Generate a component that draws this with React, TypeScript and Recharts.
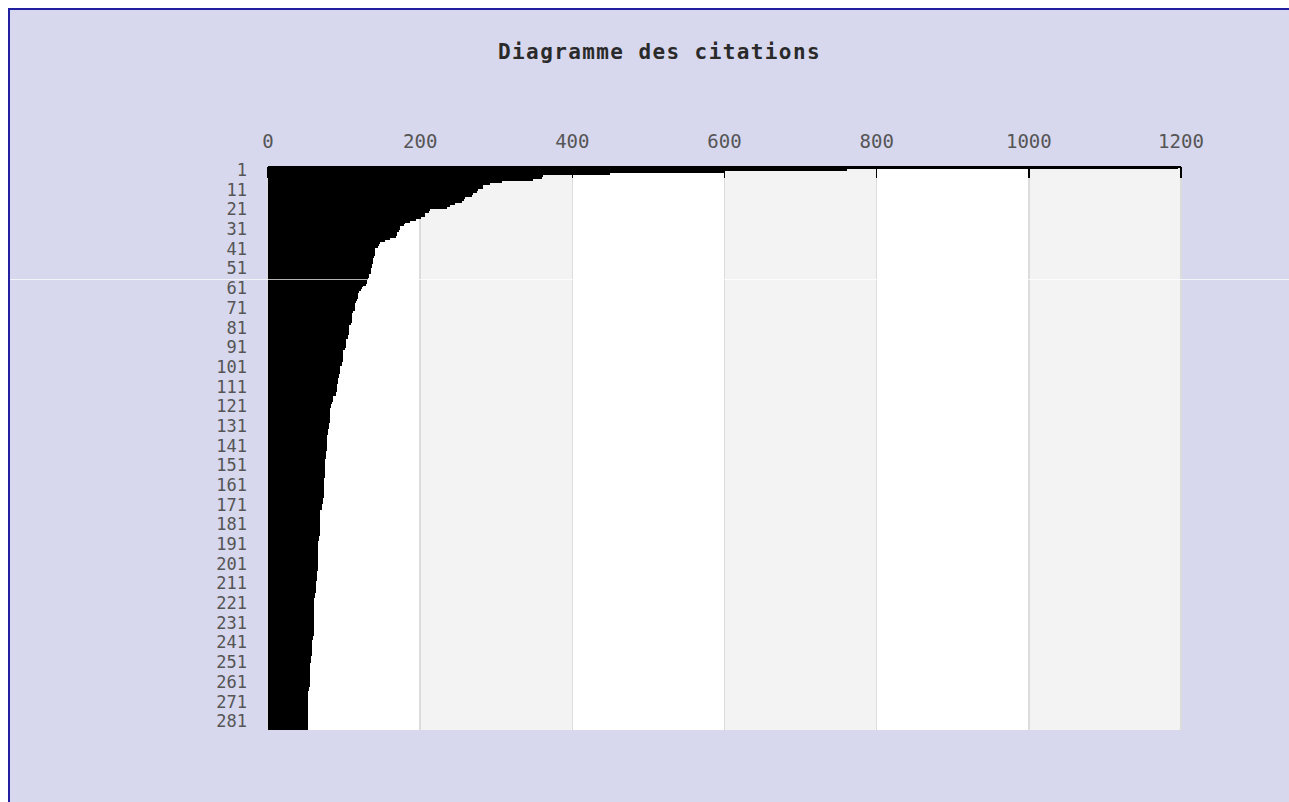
import { Bar, BarChart, CartesianGrid, XAxis, YAxis } from 'recharts';

// citations per paper, sorted by rank
const citations = [
  1196, 761, 600, 450, 362, 360, 348, 308, 292, 283,
  282, 276, 275, 270, 268, 259, 257, 255, 246, 239,
  235, 213, 212, 207, 206, 201, 194, 187, 180, 179,
  174, 173, 172, 170, 169, 168, 160, 154, 147, 146,
  145, 141, 141, 140, 140, 139, 138, 138, 138, 137,
  137, 136, 136, 135, 133, 133, 132, 130, 130, 129,
  125, 124, 122, 119, 118, 118, 118, 117, 116, 115,
  115, 114, 114, 112, 111, 111, 110, 110, 110, 109,
  107, 107, 106, 106, 106, 105, 105, 103, 103, 102,
  102, 102, 101, 99, 99, 98, 98, 98, 98, 97,
  97, 95, 94, 94, 94, 93, 93, 92, 92, 92,
  91, 91, 91, 91, 90, 90, 86, 85, 85, 84,
  83, 83, 82, 82, 82, 82, 81, 81, 81, 81,
  80, 80, 80, 79, 79, 79, 78, 78, 77, 77,
  77, 77, 77, 77, 76, 76, 76, 76, 75, 75,
  75, 75, 75, 75, 75, 75, 75, 75, 74, 74,
  74, 74, 74, 74, 74, 74, 74, 74, 72, 72,
  72, 71, 71, 71, 69, 69, 69, 69, 69, 69,
  69, 68, 68, 68, 68, 68, 68, 67, 67, 67,
  66, 66, 66, 66, 66, 66, 66, 66, 66, 66,
  66, 66, 66, 66, 66, 65, 65, 65, 64, 64,
  63, 63, 63, 63, 63, 63, 62, 62, 62, 61,
  61, 61, 61, 61, 61, 61, 61, 61, 61, 61,
  61, 61, 61, 61, 61, 60, 60, 60, 59, 59,
  58, 58, 58, 58, 58, 58, 58, 58, 57, 57,
  56, 56, 55, 55, 55, 55, 55, 55, 55, 55,
  55, 55, 55, 55, 54, 54, 53, 53, 53, 53,
  53, 53, 53, 53, 53, 53, 53, 53, 53, 53,
  52, 52, 52, 52, 52, 52,
];
const ranks = citations.map((_, i) => i + 1);
const xTicks = [0, 200, 400, 600, 800, 1000, 1200];
const title = 'Diagramme des citations';

const data = ranks.map((rank, i) => ({ rank: String(rank), value: citations[i] }));

const MONO = '"DejaVu Sans Mono", monospace';

function TopTick({ x, y, payload }: any) {
  return (
    <g>
      <text x={x} y={y} textAnchor="middle" fill="#555" fontSize={19} fontFamily={MONO}>
        {payload.value}
      </text>
      <line x1={x} x2={x} y1={y + 19} y2={y + 30} stroke="#000" strokeWidth={1.4} />
    </g>
  );
}

function StepBar({ x, y, width, height }: any) {
  if (!width) return null;
  return <rect x={x} y={y} width={width} height={height + 0.4} fill="#000" />;
}

export default function App() {
  return (
    <div
      style={{
        position: 'fixed',
        left: 8,
        top: 8,
        width: 1281,
        height: 794,
        boxSizing: 'border-box',
        background: '#d7d7ee',
        borderLeft: '2px solid #2020a0',
        borderTop: '2px solid #2020a0',
        overflow: 'hidden',
      }}
    >
      <div
        style={{
          position: 'absolute',
          top: 32,
          left: 10,
          width: 1279,
          textAlign: 'center',
          fontFamily: MONO,
          fontWeight: 'bold',
          fontSize: 21,
          letterSpacing: 1.4,
          lineHeight: 1,
          color: '#2a2a2a',
          zIndex: 2,
        }}
      >
        {title}
      </div>
      <BarChart
        width={1279}
        height={792}
        data={data}
        layout="vertical"
        margin={{ top: 117, right: 108, left: 198, bottom: 72 }}
        barCategoryGap={0}
        style={{ shapeRendering: 'crispEdges' }}
      >
        <CartesianGrid
          horizontal={false}
          stroke="#dcdcdc"
          strokeWidth={1.5}
          verticalFill={['#ffffff', '#f3f3f3']}
        />
        <XAxis
          type="number"
          orientation="top"
          domain={[0, 1200]}
          ticks={xTicks}
          interval={0}
          height={40}
          axisLine={{ stroke: '#000', strokeWidth: 1.5 }}
          tickLine={false}
          tickSize={0}
          tickMargin={19}
          tick={TopTick}
        />
        <YAxis
          type="category"
          dataKey="rank"
          width={60}
          interval={9}
          axisLine={false}
          tickLine={false}
          tickSize={0}
          tickMargin={21}
          tick={{ fill: '#555', fontSize: 17, fontFamily: MONO, dy: 2 }}
        />
        <Bar dataKey="value" barSize={1.96} shape={StepBar} isAnimationActive={false} />
      </BarChart>
      <div
        style={{
          position: 'absolute',
          top: 269,
          left: 0,
          width: 1279,
          height: 1,
          background: 'rgba(255,255,255,0.7)',
          zIndex: 2,
        }}
      />
    </div>
  );
}
